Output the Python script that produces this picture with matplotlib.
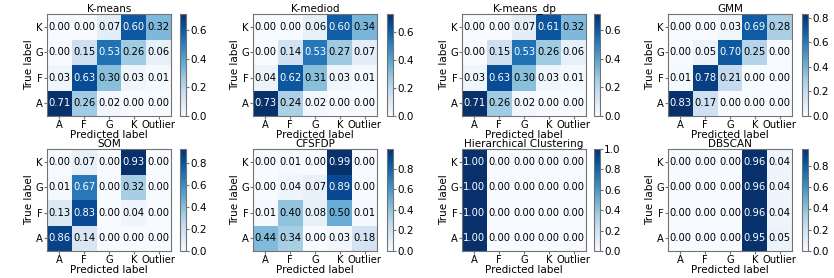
import matplotlib.pyplot as plt
import numpy as np
import matplotlib as mpl
from matplotlib.ticker import MultipleLocator, FormatStrFormatter

mpl.rcParams.update({
    'font.family': 'DejaVu Sans',
    'font.size': 7.5,
    'axes.edgecolor': '0.45',
    'axes.linewidth': 0.8,
    'xtick.color': '0.45',
    'ytick.color': '0.45',
    'xtick.labelcolor': 'black',
    'ytick.labelcolor': 'black',
    'xtick.major.size': 2,
    'ytick.major.size': 2,
})

classes = ['A', 'F', 'G', 'K', 'Outlier']
true_classes = ['A', 'F', 'G', 'K']

# rows: true A, F, G, K ; cols: predicted A, F, G, K, Outlier
kmeans = [[0.71, 0.26, 0.02, 0.00, 0.00],
          [0.03, 0.63, 0.30, 0.03, 0.01],
          [0.00, 0.15, 0.53, 0.26, 0.06],
          [0.00, 0.00, 0.07, 0.60, 0.32]]
kmedoid = [[0.73, 0.24, 0.02, 0.00, 0.00],
           [0.04, 0.62, 0.31, 0.03, 0.01],
           [0.00, 0.14, 0.53, 0.27, 0.07],
           [0.00, 0.00, 0.06, 0.60, 0.34]]
kmeans_dp = [[0.71, 0.26, 0.02, 0.00, 0.00],
             [0.03, 0.63, 0.30, 0.03, 0.01],
             [0.00, 0.15, 0.53, 0.26, 0.06],
             [0.00, 0.00, 0.07, 0.61, 0.32]]
gmm = [[0.83, 0.17, 0.00, 0.00, 0.00],
       [0.01, 0.78, 0.21, 0.00, 0.00],
       [0.00, 0.05, 0.70, 0.25, 0.00],
       [0.00, 0.00, 0.03, 0.69, 0.28]]
som = [[0.86, 0.14, 0.00, 0.00, 0.00],
       [0.13, 0.83, 0.00, 0.04, 0.00],
       [0.01, 0.67, 0.00, 0.32, 0.00],
       [0.00, 0.07, 0.00, 0.93, 0.00]]
cfsfdp = [[0.44, 0.34, 0.00, 0.03, 0.18],
          [0.01, 0.40, 0.08, 0.50, 0.01],
          [0.00, 0.04, 0.07, 0.89, 0.00],
          [0.00, 0.01, 0.00, 0.99, 0.00]]
hierarchical = [[1.00, 0.00, 0.00, 0.00, 0.00],
                [1.00, 0.00, 0.00, 0.00, 0.00],
                [1.00, 0.00, 0.00, 0.00, 0.00],
                [1.00, 0.00, 0.00, 0.00, 0.00]]
dbscan = [[0.00, 0.00, 0.00, 0.95, 0.05],
          [0.00, 0.00, 0.00, 0.96, 0.04],
          [0.00, 0.00, 0.00, 0.96, 0.04],
          [0.00, 0.00, 0.00, 0.96, 0.04]]

titles = ['K-means', 'K-mediod', 'K-means_dp', 'GMM',
          'SOM', 'CFSFDP', 'Hierarchical Clustering', 'DBSCAN']
matrices = [kmeans, kmedoid, kmeans_dp, gmm, som, cfsfdp, hierarchical, dbscan]

W, H = 834, 278
fig = plt.figure(figsize=(W / 100, H / 100), dpi=100)

# panel placement in pixels
lefts = [47, 253, 462, 668]
cb_lefts = [180, 387, 594, 802]
tops = [14, 149]
ax_w, ax_h = 124, 102

for i, (title, m) in enumerate(zip(titles, matrices)):
    r, c = divmod(i, 4)
    m = np.array(m)
    ax = fig.add_axes([lefts[c] / W, 1 - (tops[r] + ax_h) / H, ax_w / W, ax_h / H])
    cax = fig.add_axes([cb_lefts[c] / W, 1 - (tops[r] + ax_h) / H, 6 / W, ax_h / H])
    im = ax.imshow(m, cmap='Blues', origin='lower', aspect='auto',
                   interpolation='nearest', vmin=0, vmax=m.max())
    cb = fig.colorbar(im, cax=cax)
    cb.outline.set_edgecolor('0.45')
    cb.ax.yaxis.set_major_locator(MultipleLocator(0.2))
    cb.ax.yaxis.set_major_formatter(FormatStrFormatter('%.1f'))
    cb.ax.tick_params(labelsize=7.5, length=2, pad=1)

    thresh = m.max() * 0.51
    for yi in range(m.shape[0]):
        for xi in range(m.shape[1]):
            ax.text(xi, yi, f'{m[yi, xi]:.2f}', ha='center', va='center', fontsize=7.2,
                    color='white' if m[yi, xi] > thresh else 'black')

    ax.set_xticks(range(len(classes)))
    ax.set_xticklabels(classes)
    ax.set_yticks(range(len(true_classes)))
    ax.set_yticklabels(true_classes)
    ax.tick_params(labelsize=7.2, pad=1)
    ax.set_title(title, fontsize=7.5, pad=1)
    ax.set_xlabel('Predicted label', fontsize=7.5, labelpad=0)
    ax.set_ylabel('True label', fontsize=7.5, labelpad=1)

plt.savefig('out.png', dpi=100)
plt.close()
